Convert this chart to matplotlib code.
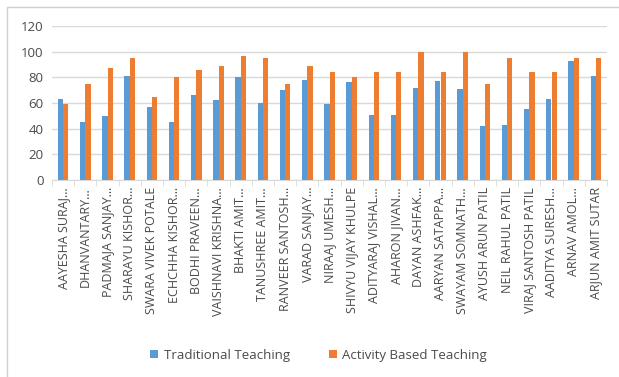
import matplotlib
matplotlib.use("Agg")
import matplotlib.pyplot as plt
import numpy as np
from matplotlib.patches import Rectangle

names = [
    "AAYESHA SURAJ…", "DHANVANTARY…", "PADMAJA SANJAY…", "SHARAYU KISHOR…",
    "SWARA VIVEK POTALE", "ECHCHHA KISHOR…", "BODHI PRAVEEN…",
    "VAISHNAVI KRISHNA…", "BHAKTI AMIT…", "TANUSHREE AMIT…",
    "RANVEER SANTOSH…", "VARAD SANJAY…", "NIRAAJ UMESH…",
    "SHIVYU VIJAY KHULPE", "ADITYARAJ VISHAL…", "AHARON JIVAN…",
    "DAYAN ASHFAK…", "AARYAN SATAPPA…", "SWAYAM SOMNATH…",
    "AYUSH ARUN PATIL", "NEIL RAHUL PATIL", "VIRAJ SANTOSH PATIL",
    "AADITYA SURESH…", "ARNAV AMOL…", "ARJUN AMIT SUTAR",
]
traditional = [63, 45, 50, 81, 57, 45, 66, 62, 80, 60, 70, 78, 59,
               76, 51, 51, 72, 77, 71, 42, 43, 55, 63, 93, 81]
activity = [59, 75, 87, 95, 65, 80, 86, 89, 97, 95, 75, 89, 84,
            80, 84, 84, 100, 84, 100, 75, 95, 84, 84, 95, 95]

blue = "#5B9BD5"
orange = "#ED7D31"
grey_txt = "#4A4A4A"
grid_col = "#D9D9D9"

plt.rcParams['font.family'] = ['Open Sans', 'DejaVu Sans']

fig = plt.figure(figsize=(6.19, 3.77), dpi=100)
fig.patch.set_facecolor("white")
fig.patches.append(Rectangle((7 / 619, -0.01), 1.0, 1 - 7 / 377 + 0.01,
                             transform=fig.transFigure, fill=False,
                             edgecolor="#D0D0D0", linewidth=1.0))

ax = fig.add_axes([52 / 619, 1 - 180 / 377, (607 - 52) / 619, (180 - 26) / 377])

x = np.arange(len(names))
w = 0.24
ax.bar(x - w / 2, traditional, w, color=blue, label="Traditional Teaching", zorder=3)
ax.bar(x + w / 2, activity, w, color=orange, label="Activity Based Teaching", zorder=3)

ax.set_xlim(-0.5, len(names) - 0.5)
ax.set_ylim(0, 120)
ax.set_yticks(np.arange(0, 121, 20))
ax.yaxis.grid(True, color=grid_col, linewidth=1.0, zorder=0)
ax.tick_params(axis="y", length=0, labelsize=9.5, labelcolor=grey_txt, pad=6)

ax.set_xticks(x)
ax.set_xticklabels(names, rotation=90, fontsize=9, color=grey_txt)
ax.tick_params(axis="x", length=0, pad=5)
ax.set_xticks(np.arange(-0.5, len(names), 1), minor=True)
ax.tick_params(axis="x", which="minor", length=4, color=grid_col)

for s in ["top", "right", "left"]:
    ax.spines[s].set_visible(False)
ax.spines["bottom"].set_color(grid_col)

fig.legend(loc="center", bbox_to_anchor=(0.515, 1 - 355 / 377), ncol=2,
           frameon=False, fontsize=9.5, labelcolor=grey_txt,
           handlelength=0.6, handleheight=0.6, columnspacing=3.0,
           handletextpad=0.4)

fig.savefig("out.png", dpi=100)
